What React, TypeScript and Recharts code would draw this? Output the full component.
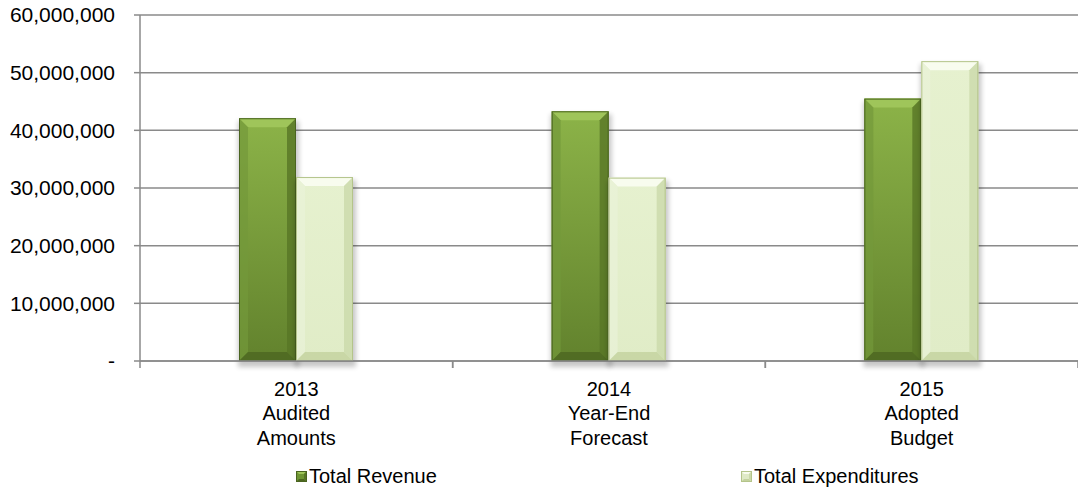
import { Bar, BarChart, CartesianGrid, Legend, XAxis, YAxis } from "recharts";

const categories = ["2013 Audited Amounts", "2014 Year-End Forecast", "2015 Adopted Budget"];
const categoryLines = [
	["2013", "Audited", "Amounts"],
	["2014", "Year-End", "Forecast"],
	["2015", "Adopted", "Budget"],
];
const revenue = [42100000, 43300000, 45500000];
const expenditures = [31900000, 31800000, 52000000];
const yTicks = [0, 10000000, 20000000, 30000000, 40000000, 50000000, 60000000];
const seriesNames = { revenue: "Total Revenue", expenditures: "Total Expenditures" };

const data = categories.map((name, i) => ({
	name,
	lines: categoryLines[i],
	revenue: revenue[i],
	expenditures: expenditures[i],
}));

const FONT = "'Liberation Sans', Arial, sans-serif";
const GRID = "#8a8a8a";

const palettes: Record<string, { face: string; top: string; left: string; right: string; bottom: string; edge: string }> = {
	revenue: {
		face: "url(#revFace)",
		top: "#9fc55a",
		left: "#73993a",
		right: "#577526",
		bottom: "#4c6720",
		edge: "#4a6420",
	},
	expenditures: {
		face: "url(#expFace)",
		top: "#f8fcee",
		left: "#eaf2d9",
		right: "#cbd9aa",
		bottom: "#c3d29e",
		edge: "#b4c48a",
	},
};

function BevelBar(props: any) {
	const { x, y, width, height, dataKey } = props;
	if (!height || height <= 0) return null;
	const p = palettes[dataKey];
	const b = Math.min(9, height / 2, width / 2);
	const r = x + width;
	const btm = y + height;
	return (
		<g>
			<rect x={x - 1} y={y + 3} width={width + 4} height={height + 3} fill="#000" opacity={0.22} filter="url(#shadow)" />
			<rect x={x} y={y} width={width} height={height} fill={p.face} />
			<polygon points={`${x},${y} ${r},${y} ${r - b},${y + b} ${x + b},${y + b}`} fill={p.top} />
			<polygon points={`${x},${y} ${x + b},${y + b} ${x + b},${btm - b} ${x},${btm}`} fill={p.left} opacity={0.7} />
			<polygon points={`${r},${y} ${r},${btm} ${r - b},${btm - b} ${r - b},${y + b}`} fill={p.right} opacity={0.8} />
			<polygon points={`${x},${btm} ${r},${btm} ${r - b},${btm - b} ${x + b},${btm - b}`} fill={p.bottom} opacity={0.8} />
			<rect x={x + 0.5} y={y + 0.5} width={width - 1} height={height - 1} fill="none" stroke={p.edge} strokeWidth={1} />
		</g>
	);
}

const HALF_BAND = (1078 - 140) / categories.length / 2;

function CategoryTick(props: any) {
	const { x, y, payload, index } = props;
	const lines: string[] = data[index]?.lines ?? [payload.value];
	const offsets = [35, 59, 84];
	return (
		<g>
			<line x1={x - HALF_BAND} y1={y} x2={x - HALF_BAND} y2={y + 7} stroke={GRID} strokeWidth={1.5} />
			<line x1={x + HALF_BAND} y1={y} x2={x + HALF_BAND} y2={y + 7} stroke={GRID} strokeWidth={1.5} />
			{lines.map((t, i) => (
				<text key={i} x={x} y={y + offsets[i]} textAnchor="middle" fontFamily={FONT} fontSize={20} fill="#000">
					{t}
				</text>
			))}
		</g>
	);
}

function LegendIcon({ kind }: { kind: string }) {
	const p = palettes[kind];
	const s = 11;
	const b = 3;
	return (
		<svg width={s} height={s} style={{ display: "block" }}>
			<rect x={0} y={0} width={s} height={s} fill={kind === "revenue" ? "#6f9534" : "#dfeac6"} />
			<polygon points={`0,0 ${s},0 ${s - b},${b} ${b},${b}`} fill={p.top} />
			<polygon points={`0,${s} ${s},${s} ${s - b},${s - b} ${b},${s - b}`} fill={p.bottom} />
			<polygon points={`${s},0 ${s},${s} ${s - b},${s - b} ${s - b},${b}`} fill={p.right} />
			<rect x={0.5} y={0.5} width={s - 1} height={s - 1} fill="none" stroke={p.edge} />
		</svg>
	);
}

const legendLeft: Record<string, number> = { revenue: 296, expenditures: 741 };

function ChartLegend({ payload }: any) {
	return (
		<div style={{ position: "relative", width: 1078, height: 24 }}>
			{(payload ?? []).map((item: any) => (
				<div
					key={item.dataKey}
					style={{
						position: "absolute",
						left: legendLeft[item.dataKey],
						top: 0,
						display: "flex",
						alignItems: "center",
						fontFamily: FONT,
						fontSize: 20,
						color: "#000",
					}}
				>
					<LegendIcon kind={item.dataKey} />
					<span style={{ marginLeft: 2 }}>{item.value}</span>
				</div>
			))}
		</div>
	);
}

export default function App() {
	return (
		<div style={{ position: "absolute", left: 0, top: 0, width: 1078, height: 496, background: "#fff" }}>
			<BarChart
				width={1078}
				height={496}
				data={data}
				margin={{ top: 15, right: 0, left: 0, bottom: 15 }}
				barCategoryGap={99}
				barGap={0}
			>
				<defs>
					<linearGradient id="revFace" x1="0" y1="0" x2="0" y2="1">
						<stop offset="0%" stopColor="#8cb348" />
						<stop offset="100%" stopColor="#62822d" />
					</linearGradient>
					<linearGradient id="expFace" x1="0" y1="0" x2="0" y2="1">
						<stop offset="0%" stopColor="#e6f1cf" />
						<stop offset="100%" stopColor="#e0ecc7" />
					</linearGradient>
					<filter id="shadow" x="-20%" y="-20%" width="140%" height="140%">
						<feGaussianBlur stdDeviation="2.5" />
					</filter>
				</defs>
				<CartesianGrid vertical={false} stroke={GRID} strokeWidth={1.5} />
				<XAxis
					dataKey="name"
					tick={<CategoryTick />}
					tickLine={false}
					tickSize={0}
					tickMargin={0}
					axisLine={{ stroke: GRID, strokeWidth: 1.5 }}
					height={96}
					interval={0}
				/>
				<YAxis
					width={140}
					domain={[0, 60000000]}
					ticks={yTicks}
					tickSize={6}
					tickMargin={19}
					tickLine={{ stroke: GRID, strokeWidth: 1.5 }}
					axisLine={{ stroke: GRID, strokeWidth: 1.5 }}
					tick={{ fill: "#000", fontSize: 21, fontFamily: FONT }}
					tickFormatter={(v: number) => (v === 0 ? "-" : v.toLocaleString("en-US"))}
				/>
				<Legend verticalAlign="bottom" content={<ChartLegend />} wrapperStyle={{ left: 0, width: 1078, top: 465 }} />
				<Bar dataKey="revenue" name={seriesNames.revenue} shape={<BevelBar />} isAnimationActive={false} />
				<Bar dataKey="expenditures" name={seriesNames.expenditures} shape={<BevelBar />} isAnimationActive={false} />
			</BarChart>
		</div>
	);
}
